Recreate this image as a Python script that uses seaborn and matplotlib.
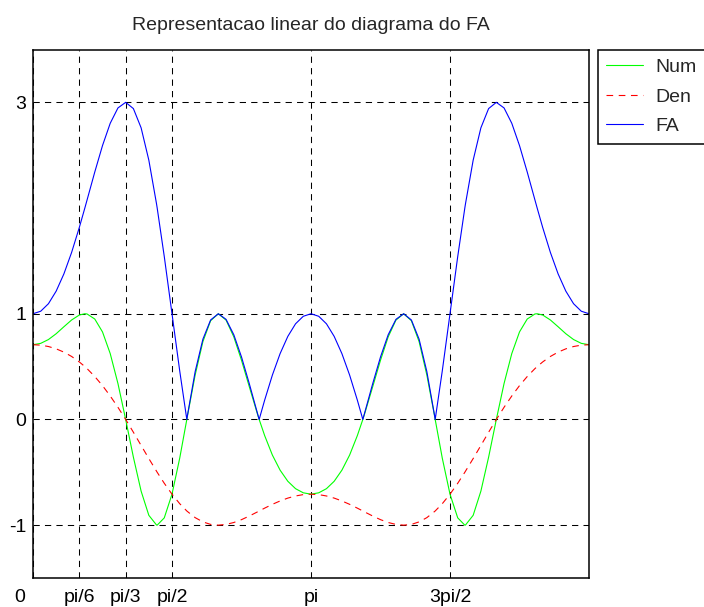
import numpy as np
import pandas as pd
import matplotlib
matplotlib.use("Agg")
import matplotlib.pyplot as plt
import matplotlib.transforms as mtransforms
import seaborn as sns

# angle in degrees (0 .. 2pi)
theta = [0, 5, 10, 15, 20, 25, 30, 33.56, 35, 40, 45, 50, 55, 60, 65, 70, 75, 80, 80.41, 85,
         90, 95, 99.59, 100, 105, 110, 115, 120, 125, 130, 135, 140, 145, 146.44, 150, 155,
         160, 165, 170, 175, 180, 185, 190, 195, 200, 205, 210, 213.56, 215, 220, 225, 230,
         235, 240, 245, 250, 255, 260, 260.41, 265, 270, 275, 279.59, 280, 285, 290, 295, 300,
         305, 310, 315, 320, 325, 326.44, 330, 335, 340, 345, 350, 355, 360]

num = [0.707, 0.720, 0.756, 0.811, 0.877, 0.941, 0.988, 1.000, 0.998, 0.950, 0.828, 0.623,
       0.340, 0.000, -0.357, -0.678, -0.907, -0.999, -1.000, -0.931, -0.707, -0.366, 0.000,
       0.033, 0.421, 0.736, 0.934, 1.000, 0.940, 0.782, 0.560, 0.312, 0.067, 0.000, -0.153,
       -0.337, -0.480, -0.585, -0.655, -0.694, -0.707, -0.694, -0.655, -0.585, -0.480, -0.337,
       -0.153, 0.000, 0.067, 0.312, 0.560, 0.782, 0.940, 1.000, 0.934, 0.736, 0.421, 0.033,
       0.000, -0.366, -0.707, -0.931, -1.000, -0.999, -0.907, -0.678, -0.357, 0.000, 0.340,
       0.623, 0.828, 0.950, 0.998, 1.000, 0.988, 0.941, 0.877, 0.811, 0.756, 0.720, 0.707]

den = [0.707, 0.703, 0.690, 0.668, 0.637, 0.596, 0.544, 0.500, 0.481, 0.406, 0.320, 0.222,
       0.115, 0.000, -0.121, -0.246, -0.370, -0.490, -0.500, -0.604, -0.707, -0.797, -0.866,
       -0.871, -0.929, -0.969, -0.993, -1.000, -0.993, -0.975, -0.948, -0.914, -0.877, -0.866,
       -0.839, -0.803, -0.771, -0.744, -0.724, -0.711, -0.707, -0.711, -0.724, -0.744, -0.771,
       -0.803, -0.839, -0.866, -0.877, -0.914, -0.948, -0.975, -0.993, -1.000, -0.993, -0.969,
       -0.929, -0.871, -0.866, -0.797, -0.707, -0.604, -0.500, -0.490, -0.370, -0.246, -0.121,
       0.000, 0.115, 0.222, 0.320, 0.406, 0.481, 0.500, 0.544, 0.596, 0.637, 0.668, 0.690,
       0.703, 0.707]

fa = [1.000, 1.024, 1.095, 1.214, 1.377, 1.580, 1.817, 2.000, 2.076, 2.341, 2.591, 2.802,
      2.947, 3.000, 2.941, 2.759, 2.453, 2.038, 2.000, 1.541, 1.000, 0.459, 0.000, 0.038,
      0.453, 0.759, 0.941, 1.000, 0.947, 0.802, 0.591, 0.341, 0.076, 0.000, 0.183, 0.420,
      0.623, 0.786, 0.905, 0.976, 1.000, 0.976, 0.905, 0.786, 0.623, 0.420, 0.183, 0.000,
      0.076, 0.341, 0.591, 0.802, 0.947, 1.000, 0.941, 0.759, 0.453, 0.038, 0.000, 0.459,
      1.000, 1.541, 2.000, 2.038, 2.453, 2.759, 2.941, 3.000, 2.947, 2.802, 2.591, 2.341,
      2.076, 2.000, 1.817, 1.580, 1.377, 1.214, 1.095, 1.024, 1.000]

xticks = [0, 30, 60, 90, 180, 270]
xticklabels = ["0", "pi/6", "pi/3", "pi/2", "pi", "3pi/2"]
yticks = [-1, 0, 1, 3]
yticklabels = ["-1", "0", "1", "3"]
title = "Representacao linear do diagrama do FA"

sns.set_style("white")
plt.rcParams["font.family"] = ["Liberation Sans", "DejaVu Sans"]

fig = plt.figure(figsize=(7.04, 6.07), dpi=100)
ax = fig.add_axes([33 / 704, 29 / 607, 556 / 704, 528.5 / 607])

sns.lineplot(x=theta, y=num, color=(0, 1, 0), lw=0.8, label="Num", ax=ax,
             estimator=None)
sns.lineplot(x=theta, y=den, color=(1, 0, 0), lw=0.8, label="Den", ax=ax,
             estimator=None, dashes=False)
ax.lines[-1].set_dashes((6, 5))
sns.lineplot(x=theta, y=fa, color=(0, 0, 1), lw=0.8, label="FA", ax=ax,
             estimator=None)

ax.set_xlim(0, 360)
ax.set_ylim(-1.5, 3.5)
ax.set_xticks(xticks)
ax.set_xticklabels(xticklabels)
ax.set_yticks(yticks)
ax.set_yticklabels(yticklabels)
ax.tick_params(axis="both", length=0, labelsize=14, colors="black")
ax.tick_params(axis="x", pad=8)
ax.tick_params(axis="y", pad=5)
ax.grid(True, color="black", lw=0.75, linestyle=(0, (6, 5)))
for s in ax.spines.values():
    s.set_color("black")
    s.set_linewidth(1.1)

# the "0" label sits a little left of the axis corner in the original
lab0 = ax.get_xticklabels()[0]
lab0.set_transform(lab0.get_transform() +
                   mtransforms.ScaledTranslation(-13 / 100, 0, fig.dpi_scale_trans))

ax.set_title(title, fontsize=14, pad=14)

leg = ax.legend(loc="upper left", bbox_to_anchor=(597.5 / 704, 1 - 49.5 / 607),
                bbox_transform=fig.transFigure, fontsize=14, frameon=True,
                fancybox=False, framealpha=1, edgecolor="black", borderpad=0.45,
                handlelength=1.9, handletextpad=0.65, labelspacing=0.62,
                borderaxespad=0)
leg.get_frame().set_linewidth(1.1)
leg.get_lines()[1].set_dashes((6, 5))

fig.savefig("out.png", dpi=100)
